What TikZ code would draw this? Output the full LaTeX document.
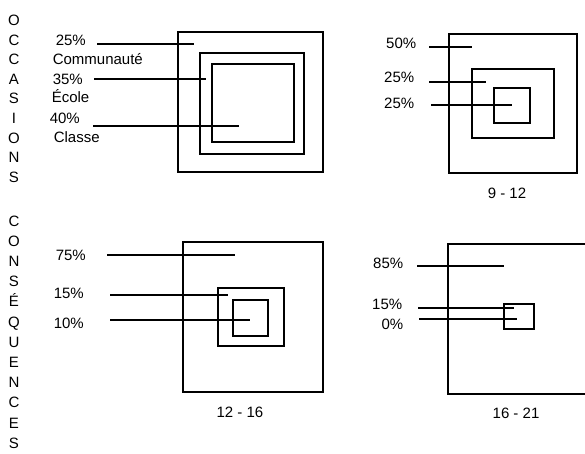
\documentclass[tikz,border=0pt]{standalone}
\usepackage{fontspec}
\setmainfont{Liberation Sans}
\begin{document}
\begin{tikzpicture}[x=1pt,y=-1pt,line width=1.5pt,
  etiq/.style={font=\fontsize{15}{18}\selectfont, inner sep=0pt}]
\clip (0,0) rectangle (585,453);
% lettres verticales
\foreach \c [count=\i] in {O,C,C,A,S,I,O,N,S}
  \node[etiq, anchor=base] (occ\i) at (14,{25.5+19.6*(\i-1)}) {\c};
\foreach \c [count=\i] in {C,O,N,S,É,Q,U,E,N,C,E,S}
  \node[etiq, anchor=base] (cons\i) at (14,{226+20.2*(\i-1)}) {\c};
% cadre 1
\draw (178,32) rectangle (323,172);
\draw (200,53) rectangle (304,154);
\draw (212,64) rectangle (294,142);
\node[etiq, anchor=base west] (p25) at (55,45.5) {25\%};
\node[etiq, anchor=base west] (comm) at (52,64.5) {Communauté};
\node[etiq, anchor=base west] (p35) at (52,84.5) {35\%};
\node[etiq, anchor=base west] (ecole) at (51,102.5) {École};
\node[etiq, anchor=base west] (p40) at (49,123.5) {40\%};
\node[etiq, anchor=base west] (classe) at (53,142.5) {Classe};
% cadre 2
\draw (449,34) rectangle (577,173);
\draw (472,69) rectangle (554,138);
\draw (494,88) rectangle (530,123);
\node[etiq, anchor=base east] (q50) at (417,48.5) {50\%};
\node[etiq, anchor=base east] (q25a) at (415,82.5) {25\%};
\node[etiq, anchor=base east] (q25b) at (415,108.5) {25\%};
\node[etiq, anchor=base] (age1) at (507,198.5) {9 - 12};
% cadre 3
\draw (183,242) rectangle (323,392);
\draw (218,288) rectangle (284,346);
\draw (233,300) rectangle (268,336);
\node[etiq, anchor=base west] (r75) at (55,260.5) {75\%};
\node[etiq, anchor=base west] (r15) at (53,298.5) {15\%};
\node[etiq, anchor=base west] (r10) at (53,328.5) {10\%};
\node[etiq, anchor=base] (age2) at (240,417.5) {12 - 16};
% cadre 4
\draw (448,244) rectangle (600,394);
\draw (504,304) rectangle (534,329);
\node[etiq, anchor=base east] (s85) at (404,268.5) {85\%};
\node[etiq, anchor=base east] (s15) at (403,309.5) {15\%};
\node[etiq, anchor=base east] (s0) at (404,329.5) {0\%};
\node[etiq, anchor=base] (age3) at (516,418.5) {16 - 21};
% traits
\foreach \n/\xa/\xb/\y in {1/97/194/44, 2/94/206/79, 3/93/239/126,
    4/429/472/47, 5/429/486/82, 6/431/512/105,
    7/107/235/255, 8/110/228/295, 9/110/250/320,
    10/417/504/266, 11/418/514/308, 12/419/517/319}
  {\coordinate (d\n) at (\xa,\y);
   \coordinate (f\n) at (\xb,\y);
   \draw (d\n) -- (f\n);}
\end{tikzpicture}
\end{document}
